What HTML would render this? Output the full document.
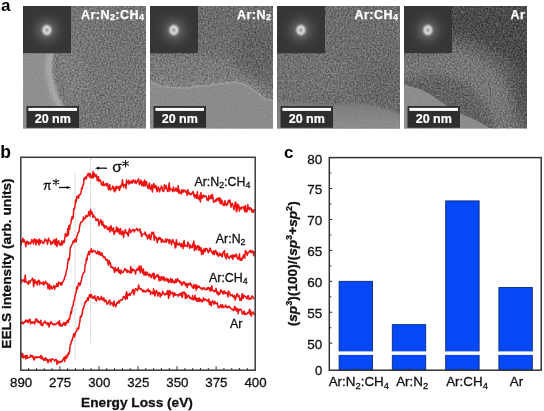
<!DOCTYPE html><html><head><meta charset="utf-8"><style>
html,body{margin:0;padding:0;background:#fff;width:544px;height:411px;overflow:hidden}svg{display:block;will-change:transform}text{font-family:"Liberation Sans",sans-serif}
</style></head><body>
<svg width="544" height="411" viewBox="0 0 544 411">
<defs>
<filter id="tx" x="0" y="0" width="1" height="1" color-interpolation-filters="sRGB"><feTurbulence type="fractalNoise" baseFrequency="0.6" numOctaves="3" seed="3" result="t"/><feColorMatrix in="t" type="matrix" values="1 0 0 0 0 1 0 0 0 0 1 0 0 0 0 0 0 0 0 1" result="g0"/><feGaussianBlur in="g0" stdDeviation="0.45" result="g"/><feComposite in="SourceGraphic" in2="g" operator="arithmetic" k1="0" k2="1" k3="0.42" k4="-0.21"/></filter>
<filter id="sm" x="0" y="0" width="1" height="1" color-interpolation-filters="sRGB"><feTurbulence type="fractalNoise" baseFrequency="0.7" numOctaves="2" seed="9" result="t"/><feColorMatrix in="t" type="matrix" values="1 0 0 0 0 1 0 0 0 0 1 0 0 0 0 0 0 0 0 1" result="g"/><feComposite in="SourceGraphic" in2="g" operator="arithmetic" k1="0" k2="1" k3="0.12" k4="-0.06"/></filter>
<filter id="bl0" x="-0.1" y="-0.1" width="1.2" height="1.2"><feGaussianBlur stdDeviation="0.7"/></filter>
<filter id="bl" x="-1" y="-1" width="3" height="3"><feGaussianBlur stdDeviation="0.8"/></filter>
<filter id="bl1" x="-0.2" y="-0.5" width="1.4" height="2"><feGaussianBlur stdDeviation="1.5"/></filter>
<filter id="bl2" x="-1" y="-0.3" width="3" height="1.6"><feGaussianBlur stdDeviation="2"/></filter>
<filter id="bb4" x="-0.3" y="-0.3" width="1.6" height="1.6"><feGaussianBlur stdDeviation="4"/></filter>
<filter id="bb" x="-1" y="-1" width="3" height="3"><feGaussianBlur stdDeviation="8"/></filter>
<radialGradient id="glow"><stop offset="0" stop-color="#8a8a8a"/><stop offset="0.25" stop-color="#606060"/><stop offset="0.6" stop-color="#464646" stop-opacity="0.7"/><stop offset="1" stop-color="#383838" stop-opacity="0"/></radialGradient>
<linearGradient id="p3s" x1="0" y1="0" x2="0" y2="1"><stop offset="0" stop-color="#7a7a7a"/><stop offset="1" stop-color="#8e8e8e"/></linearGradient>
<g id="base0">
<rect x="23" y="6" width="123" height="122.5" fill="#757575"/>
<ellipse cx="72" cy="75" rx="12" ry="35" fill="#858585" opacity="0.6" filter="url(#bb)" transform="rotate(-15 72 75)"/>
<ellipse cx="135" cy="35" rx="25" ry="30" fill="#6e6e6e" opacity="0.5" filter="url(#bb)" transform="rotate(0 135 35)"/>
<path d="M23,53 L54,53 C51,62 51.5,74 54,83 C56,92 59,100 63,106 C66,112 70,120 74,129.5 L23,129.5 Z" fill="#8f8f8f" filter="url(#bl0)"/>
<path d="M51,53 C48,62 48.5,74 51,83 C53,92 56,100 60,106 C63,112 67,120 71,129" fill="none" stroke="#acacac" stroke-width="6" filter="url(#bl2)"/>
</g>
<g id="base1">
<rect x="150" y="6" width="123" height="122.5" fill="#6f6f6f"/>
<path d="M150,55 L198,55 L235,62 L252,72 L262,85 L274,96 L274,102 L150,90 Z" fill="#7a7a7a" filter="url(#bb4)"/>
<path d="M150,76 L180,82 L230,78 L245,80 L258,90 L270,98 L274,100 L274,104 L150,92 Z" fill="#828282" filter="url(#bb4)"/>
<ellipse cx="258" cy="50" rx="22" ry="28" fill="#5a5a5a" opacity="0.6" filter="url(#bb)" transform="rotate(0 258 50)"/>
<ellipse cx="225" cy="20" rx="35" ry="15" fill="#686868" opacity="0.5" filter="url(#bb)" transform="rotate(0 225 20)"/>
<path d="M150,82 L155,84.1 L160,86.4 L170,87.5 L180,88 L190,87.5 L200,86.4 L210,85.2 L220,84.1 L228,83 L235,81.9 L240,83 L246,85.2 L252,88.6 L258,93.2 L263,97.7 L268,100 L274,100.6 L274,129.5 L150,129.5 Z" fill="#8b8b8b" filter="url(#bl0)"/>
<path d="M150,82 L155,84.1 L160,86.4 L170,87.5 L180,88 L190,87.5 L200,86.4 L210,85.2 L220,84.1 L228,83 L235,81.9 L240,83 L246,85.2 L252,88.6 L258,93.2 L263,97.7 L268,100 L274,100.6" fill="none" stroke="#9c9c9c" stroke-width="1.6" filter="url(#bl0)"/>
</g>
<g id="base2">
<rect x="277" y="6" width="123" height="122.5" fill="#6d6d6d"/>
<ellipse cx="310" cy="75" rx="40" ry="25" fill="#747474" opacity="0.6" filter="url(#bb)" transform="rotate(0 310 75)"/>
<ellipse cx="385" cy="85" rx="22" ry="25" fill="#646464" opacity="0.6" filter="url(#bb)" transform="rotate(0 385 85)"/>
<path d="M277,101 L300,103 L333.6,104.5 L356,103.3 L374.3,105.6 L390,110 L401,114.7 L401,129.5 L277,129.5 Z" fill="url(#p3s)" filter="url(#bl1)"/>
</g>
<g id="base3">
<rect x="404" y="6" width="123" height="122.5" fill="#626262"/>
<path d="M396,66 C420,58 445,58 468,68 C490,80 505,100 512,135" fill="none" stroke="#777" stroke-width="30" filter="url(#bb4)"/>
<path d="M445,0 L535,0 L535,80 L505,58 L475,40 L445,32 Z" fill="#4c4c4c" filter="url(#bb4)"/>
<ellipse cx="524" cy="85" rx="9" ry="45" fill="#484848" opacity="0.8" filter="url(#bb)" transform="rotate(0 524 85)"/>
<ellipse cx="420" cy="45" rx="25" ry="12" fill="#5e5e5e" opacity="0.6" filter="url(#bb)" transform="rotate(0 420 45)"/>
<path d="M404,84.3 L412.4,86.8 L420.8,89.4 L429.2,93.6 L437.6,99.4 L446,105.3 L454.3,110.3 L462.7,114.5 L471.1,117.9 L479.5,122.1 L487.9,127.1 L490,129.5 L404,129.5 Z" fill="#8c8c8c" filter="url(#bl0)"/>
</g>
</defs>
<rect width="544" height="411" fill="#fff"/>
<text x="1" y="10.5" font-weight="bold" font-size="17" fill="#000">a</text>
<clipPath id="cp0"><rect x="23" y="6" width="123" height="122.5"/></clipPath>
<mask id="m0" maskUnits="userSpaceOnUse" x="18" y="1" width="133" height="132.5"><path d="M23,53 L54,53 C51,62 51.5,74 54,83 C56,92 59,100 63,106 C66,112 70,120 74,129.5 L23,129.5 Z" fill="#fff" filter="url(#bl1)"/></mask>
<g clip-path="url(#cp0)">
<use href="#base0" filter="url(#tx)"/>
<use href="#base0" filter="url(#sm)" mask="url(#m0)"/>
<rect x="23" y="6" width="48" height="47.2" fill="#363636"/>
<circle cx="46.9" cy="30.2" r="22" fill="url(#glow)"/>
<ellipse cx="46.9" cy="30.2" rx="3.1" ry="3.6" fill="none" stroke="#f8f8f8" stroke-width="2.5" filter="url(#bl)"/>
<text x="144.4" y="18.8" text-anchor="end" font-weight="bold" font-size="12.5" letter-spacing="0.45" fill="#fff" stroke="#fff" stroke-width="0.25">Ar:N<tspan font-size="9" dy="1.3">2</tspan><tspan dy="-1.3">:CH</tspan><tspan font-size="9" dy="1.3">4</tspan></text>
<rect x="26.5" y="106" width="52.5" height="21.8" fill="#2e2e2e"/>
<rect x="28.4" y="107.9" width="48.6" height="3" fill="#fff"/>
<text x="52.8" y="122.8" text-anchor="middle" font-weight="bold" font-size="12.5" fill="#fff" stroke="#fff" stroke-width="0.2">20 nm</text>
</g>
<clipPath id="cp1"><rect x="150" y="6" width="123" height="122.5"/></clipPath>
<mask id="m1" maskUnits="userSpaceOnUse" x="145" y="1" width="133" height="132.5"><path d="M150,82 L155,84.1 L160,86.4 L170,87.5 L180,88 L190,87.5 L200,86.4 L210,85.2 L220,84.1 L228,83 L235,81.9 L240,83 L246,85.2 L252,88.6 L258,93.2 L263,97.7 L268,100 L274,100.6 L274,129.5 L150,129.5 Z" fill="#fff" filter="url(#bl1)"/></mask>
<g clip-path="url(#cp1)">
<use href="#base1" filter="url(#tx)"/>
<use href="#base1" filter="url(#sm)" mask="url(#m1)"/>
<rect x="150" y="6" width="48" height="47.2" fill="#363636"/>
<circle cx="173.9" cy="30.2" r="22" fill="url(#glow)"/>
<ellipse cx="173.9" cy="30.2" rx="3.1" ry="3.6" fill="none" stroke="#f8f8f8" stroke-width="2.5" filter="url(#bl)"/>
<text x="271.4" y="18.8" text-anchor="end" font-weight="bold" font-size="12.5" letter-spacing="0.45" fill="#fff" stroke="#fff" stroke-width="0.25">Ar:N<tspan font-size="9" dy="1.3">2</tspan></text>
<rect x="153.5" y="106" width="52.5" height="21.8" fill="#2e2e2e"/>
<rect x="155.4" y="107.9" width="48.6" height="3" fill="#fff"/>
<text x="179.8" y="122.8" text-anchor="middle" font-weight="bold" font-size="12.5" fill="#fff" stroke="#fff" stroke-width="0.2">20 nm</text>
</g>
<clipPath id="cp2"><rect x="277" y="6" width="123" height="122.5"/></clipPath>
<mask id="m2" maskUnits="userSpaceOnUse" x="272" y="1" width="133" height="132.5"><path d="M277,101 L300,103 L333.6,104.5 L356,103.3 L374.3,105.6 L390,110 L401,114.7 L401,129.5 L277,129.5 Z" fill="#fff" filter="url(#bl1)"/></mask>
<g clip-path="url(#cp2)">
<use href="#base2" filter="url(#tx)"/>
<use href="#base2" filter="url(#sm)" mask="url(#m2)"/>
<rect x="277" y="6" width="48" height="47.2" fill="#363636"/>
<circle cx="300.9" cy="30.2" r="22" fill="url(#glow)"/>
<ellipse cx="300.9" cy="30.2" rx="3.1" ry="3.6" fill="none" stroke="#f8f8f8" stroke-width="2.5" filter="url(#bl)"/>
<text x="398.4" y="18.8" text-anchor="end" font-weight="bold" font-size="12.5" letter-spacing="0.45" fill="#fff" stroke="#fff" stroke-width="0.25">Ar:CH<tspan font-size="9" dy="1.3">4</tspan></text>
<rect x="280.5" y="106" width="52.5" height="21.8" fill="#2e2e2e"/>
<rect x="282.4" y="107.9" width="48.6" height="3" fill="#fff"/>
<text x="306.8" y="122.8" text-anchor="middle" font-weight="bold" font-size="12.5" fill="#fff" stroke="#fff" stroke-width="0.2">20 nm</text>
</g>
<clipPath id="cp3"><rect x="404" y="6" width="123" height="122.5"/></clipPath>
<mask id="m3" maskUnits="userSpaceOnUse" x="399" y="1" width="133" height="132.5"><path d="M404,84.3 L412.4,86.8 L420.8,89.4 L429.2,93.6 L437.6,99.4 L446,105.3 L454.3,110.3 L462.7,114.5 L471.1,117.9 L479.5,122.1 L487.9,127.1 L490,129.5 L404,129.5 Z" fill="#fff" filter="url(#bl1)"/></mask>
<g clip-path="url(#cp3)">
<use href="#base3" filter="url(#tx)"/>
<use href="#base3" filter="url(#sm)" mask="url(#m3)"/>
<rect x="404" y="6" width="48" height="47.2" fill="#363636"/>
<circle cx="427.9" cy="30.2" r="22" fill="url(#glow)"/>
<ellipse cx="427.9" cy="30.2" rx="3.1" ry="3.6" fill="none" stroke="#f8f8f8" stroke-width="2.5" filter="url(#bl)"/>
<text x="525.4" y="18.8" text-anchor="end" font-weight="bold" font-size="12.5" letter-spacing="0.45" fill="#fff" stroke="#fff" stroke-width="0.25">Ar</text>
<rect x="407.5" y="106" width="52.5" height="21.8" fill="#2e2e2e"/>
<rect x="409.4" y="107.9" width="48.6" height="3" fill="#fff"/>
<text x="433.8" y="122.8" text-anchor="middle" font-weight="bold" font-size="12.5" fill="#fff" stroke="#fff" stroke-width="0.2">20 nm</text>
</g>
<text x="0.3" y="158" font-weight="bold" font-size="17.5" fill="#000">b</text>
<line x1="75.1" y1="174" x2="75.1" y2="360" stroke="#9aa" stroke-width="0.8" stroke-dasharray="1,1.2"/>
<line x1="90.6" y1="159" x2="90.6" y2="344.5" stroke="#9aa" stroke-width="0.8" stroke-dasharray="1,1.2"/>
<path d="M21.0,245.7 L21.6,240.7 L22.2,241.8 L22.8,238.2 L23.4,241.9 L24.0,239.8 L24.6,241.7 L25.2,242.4 L25.8,246.7 L26.4,241.3 L27.0,242.5 L27.6,241.5 L28.2,244.4 L28.8,242.5 L29.4,242.5 L30.0,243.1 L30.6,244.0 L31.2,242.1 L31.8,239.5 L32.4,240.6 L33.0,242.3 L33.6,243.9 L34.2,238.8 L34.8,241.6 L35.4,239.7 L36.0,244.9 L36.6,239.8 L37.2,241.8 L37.8,242.6 L38.4,240.1 L39.0,244.9 L39.6,239.0 L40.2,243.5 L40.8,241.0 L41.4,240.8 L42.0,241.4 L42.6,243.1 L43.2,242.4 L43.8,243.2 L44.4,241.2 L45.0,238.9 L45.6,240.8 L46.2,240.7 L46.8,240.0 L47.4,244.2 L48.0,241.8 L48.6,238.2 L49.2,240.4 L49.8,240.4 L50.4,241.5 L51.0,244.6 L51.6,242.0 L52.2,242.0 L52.8,243.5 L53.4,240.7 L54.0,239.7 L54.6,242.1 L55.2,244.8 L55.8,239.6 L56.4,238.7 L57.0,246.6 L57.6,241.4 L58.2,242.3 L58.8,240.7 L59.4,244.8 L60.0,243.5 L60.6,245.4 L61.2,244.8 L61.8,240.8 L62.4,244.5 L63.0,242.0 L63.6,241.0 L64.2,242.6 L64.8,237.9 L65.4,233.6 L66.0,234.9 L66.6,236.5 L67.2,235.5 L67.8,228.4 L68.4,235.0 L69.0,225.5 L69.6,229.3 L70.2,225.1 L70.8,223.4 L71.4,219.5 L72.0,216.8 L72.6,219.0 L73.2,217.2 L73.8,208.4 L74.4,208.8 L75.0,206.1 L75.6,200.0 L76.2,201.8 L76.8,196.8 L77.4,196.1 L78.0,197.4 L78.6,198.1 L79.2,194.4 L79.8,195.1 L80.4,194.0 L81.0,193.5 L81.6,188.1 L82.2,188.7 L82.8,185.7 L83.4,185.2 L84.0,178.4 L84.6,179.8 L85.2,177.2 L85.8,177.0 L86.4,178.8 L87.0,175.6 L87.6,174.9 L88.2,173.2 L88.8,174.4 L89.4,177.1 L90.0,173.6 L90.6,174.9 L91.2,178.0 L91.8,175.9 L92.4,177.7 L93.0,171.6 L93.6,177.5 L94.2,173.3 L94.8,174.6 L95.4,176.5 L96.0,174.7 L96.6,175.9 L97.2,180.6 L97.8,176.9 L98.4,176.7 L99.0,181.6 L99.6,179.7 L100.2,180.0 L100.8,181.4 L101.4,184.4 L102.0,184.8 L102.6,185.4 L103.2,181.5 L103.8,185.3 L104.4,185.6 L105.0,184.2 L105.6,184.6 L106.2,183.5 L106.8,185.9 L107.4,183.5 L108.0,186.5 L108.6,189.8 L109.2,187.2 L109.8,184.6 L110.4,190.1 L111.0,189.1 L111.6,188.9 L112.2,188.4 L112.8,185.9 L113.4,188.0 L114.0,190.2 L114.6,191.8 L115.2,187.3 L115.8,190.4 L116.4,186.2 L117.0,187.9 L117.6,188.1 L118.2,186.7 L118.8,188.6 L119.4,190.4 L120.0,185.9 L120.6,188.0 L121.2,185.1 L121.8,185.5 L122.4,179.8 L123.0,184.0 L123.6,187.2 L124.2,184.7 L124.8,184.5 L125.4,184.6 L126.0,188.4 L126.6,180.0 L127.2,181.5 L127.8,182.7 L128.4,184.0 L129.0,180.2 L129.6,183.8 L130.2,182.7 L130.8,181.9 L131.4,180.9 L132.0,183.3 L132.6,182.4 L133.2,179.8 L133.8,180.9 L134.4,182.1 L135.0,182.9 L135.6,180.2 L136.2,183.4 L136.8,182.2 L137.4,181.3 L138.0,180.0 L138.6,178.7 L139.2,184.5 L139.8,182.1 L140.4,183.1 L141.0,180.0 L141.6,185.5 L142.2,183.0 L142.8,182.0 L143.4,186.1 L144.0,182.5 L144.6,180.0 L145.2,186.1 L145.8,181.4 L146.4,181.6 L147.0,185.1 L147.6,187.3 L148.2,188.7 L148.8,185.5 L149.4,183.0 L150.0,188.1 L150.6,189.5 L151.2,189.1 L151.8,184.9 L152.4,192.0 L153.0,187.2 L153.6,183.6 L154.2,184.5 L154.8,188.1 L155.4,186.8 L156.0,185.4 L156.6,189.4 L157.2,191.7 L157.8,188.3 L158.4,186.9 L159.0,189.6 L159.6,191.9 L160.2,188.8 L160.8,188.7 L161.4,186.1 L162.0,187.1 L162.6,190.8 L163.2,191.0 L163.8,191.5 L164.4,184.8 L165.0,188.5 L165.6,188.3 L166.2,185.6 L166.8,189.2 L167.4,191.1 L168.0,191.5 L168.6,186.7 L169.2,183.0 L169.8,191.1 L170.4,188.3 L171.0,189.0 L171.6,189.4 L172.2,190.2 L172.8,191.6 L173.4,187.0 L174.0,190.0 L174.6,191.1 L175.2,190.9 L175.8,187.9 L176.4,188.8 L177.0,191.5 L177.6,190.1 L178.2,185.8 L178.8,193.2 L179.4,190.0 L180.0,192.2 L180.6,193.3 L181.2,193.9 L181.8,189.8 L182.4,190.4 L183.0,192.3 L183.6,189.9 L184.2,190.8 L184.8,190.3 L185.4,192.1 L186.0,191.1 L186.6,191.6 L187.2,195.4 L187.8,189.8 L188.4,193.6 L189.0,192.2 L189.6,194.4 L190.2,193.6 L190.8,194.8 L191.4,193.8 L192.0,193.3 L192.6,192.0 L193.2,191.6 L193.8,196.0 L194.4,194.1 L195.0,197.8 L195.6,195.3 L196.2,194.8 L196.8,198.3 L197.4,191.8 L198.0,198.5 L198.6,198.6 L199.2,199.6 L199.8,195.2 L200.4,202.0 L201.0,192.6 L201.6,198.2 L202.2,195.7 L202.8,197.8 L203.4,195.3 L204.0,195.7 L204.6,196.8 L205.2,195.9 L205.8,196.3 L206.4,196.9 L207.0,200.1 L207.6,199.8 L208.2,200.6 L208.8,195.5 L209.4,199.0 L210.0,197.5 L210.6,198.5 L211.2,194.9 L211.8,198.4 L212.4,194.4 L213.0,198.4 L213.6,202.2 L214.2,201.8 L214.8,201.3 L215.4,200.0 L216.0,201.6 L216.6,198.6 L217.2,200.0 L217.8,199.1 L218.4,198.0 L219.0,201.1 L219.6,197.8 L220.2,203.7 L220.8,199.1 L221.4,203.7 L222.0,200.5 L222.6,202.0 L223.2,205.4 L223.8,204.2 L224.4,205.5 L225.0,200.5 L225.6,204.5 L226.2,203.9 L226.8,205.4 L227.4,204.8 L228.0,201.6 L228.6,200.4 L229.2,202.5 L229.8,199.9 L230.4,203.0 L231.0,207.2 L231.6,204.2 L232.2,203.3 L232.8,205.0 L233.4,206.9 L234.0,209.8 L234.6,206.8 L235.2,202.2 L235.8,202.3 L236.4,211.8 L237.0,210.6 L237.6,204.1 L238.2,207.7 L238.8,205.3 L239.4,211.1 L240.0,208.0 L240.6,207.7 L241.2,209.0 L241.8,207.1 L242.4,207.4 L243.0,207.0 L243.6,208.9 L244.2,206.7 L244.8,211.8 L245.4,205.5 L246.0,211.3 L246.6,211.9 L247.2,210.9 L247.8,204.5 L248.4,209.0 L249.0,207.6 L249.6,210.1 L250.2,207.8 L250.8,208.7 L251.4,208.5 L252.0,212.0 L252.6,210.1 L253.2,212.3 L253.8,211.9 L254.4,209.1" fill="none" stroke="#ee1111" stroke-width="1.5" stroke-linejoin="round"/>
<path d="M21.0,281.0 L21.6,282.6 L22.2,279.7 L22.8,280.6 L23.4,280.0 L24.0,281.0 L24.6,282.2 L25.2,275.1 L25.8,281.3 L26.4,282.4 L27.0,282.2 L27.6,282.3 L28.2,284.4 L28.8,280.9 L29.4,282.2 L30.0,282.9 L30.6,280.4 L31.2,280.2 L31.8,280.1 L32.4,278.1 L33.0,279.1 L33.6,286.6 L34.2,282.4 L34.8,279.7 L35.4,283.1 L36.0,282.2 L36.6,281.7 L37.2,285.0 L37.8,281.3 L38.4,280.3 L39.0,280.3 L39.6,284.7 L40.2,282.0 L40.8,282.8 L41.4,283.1 L42.0,283.7 L42.6,283.9 L43.2,281.7 L43.8,285.1 L44.4,282.9 L45.0,282.9 L45.6,281.2 L46.2,283.7 L46.8,283.8 L47.4,283.2 L48.0,288.7 L48.6,286.6 L49.2,284.1 L49.8,289.4 L50.4,286.3 L51.0,285.7 L51.6,288.3 L52.2,288.8 L52.8,287.3 L53.4,286.9 L54.0,285.5 L54.6,289.4 L55.2,286.7 L55.8,286.1 L56.4,286.6 L57.0,283.2 L57.6,286.6 L58.2,286.0 L58.8,282.0 L59.4,283.6 L60.0,283.1 L60.6,284.8 L61.2,282.4 L61.8,285.0 L62.4,282.7 L63.0,281.6 L63.6,280.8 L64.2,279.3 L64.8,276.5 L65.4,276.0 L66.0,273.1 L66.6,269.8 L67.2,268.4 L67.8,262.4 L68.4,258.5 L69.0,260.2 L69.6,257.5 L70.2,248.7 L70.8,246.4 L71.4,246.1 L72.0,244.2 L72.6,243.7 L73.2,240.8 L73.8,242.3 L74.4,242.0 L75.0,239.0 L75.6,240.9 L76.2,241.8 L76.8,236.1 L77.4,235.7 L78.0,232.8 L78.6,232.2 L79.2,229.9 L79.8,225.4 L80.4,223.9 L81.0,222.0 L81.6,222.0 L82.2,221.7 L82.8,221.4 L83.4,217.1 L84.0,219.2 L84.6,218.5 L85.2,218.6 L85.8,215.6 L86.4,217.0 L87.0,215.7 L87.6,216.5 L88.2,214.9 L88.8,211.5 L89.4,214.3 L90.0,216.1 L90.6,209.6 L91.2,213.8 L91.8,211.7 L92.4,213.1 L93.0,217.6 L93.6,215.1 L94.2,216.4 L94.8,217.0 L95.4,217.4 L96.0,220.5 L96.6,219.3 L97.2,220.5 L97.8,218.9 L98.4,219.8 L99.0,225.7 L99.6,222.8 L100.2,222.2 L100.8,219.6 L101.4,222.6 L102.0,225.1 L102.6,221.3 L103.2,225.0 L103.8,226.7 L104.4,225.3 L105.0,228.4 L105.6,225.9 L106.2,226.8 L106.8,226.5 L107.4,229.3 L108.0,228.8 L108.6,229.7 L109.2,226.9 L109.8,232.0 L110.4,230.1 L111.0,225.7 L111.6,228.4 L112.2,231.0 L112.8,228.8 L113.4,227.9 L114.0,234.4 L114.6,232.7 L115.2,231.1 L115.8,231.8 L116.4,227.1 L117.0,227.5 L117.6,231.9 L118.2,228.4 L118.8,229.3 L119.4,234.0 L120.0,230.2 L120.6,228.6 L121.2,234.8 L121.8,234.0 L122.4,232.4 L123.0,230.8 L123.6,237.4 L124.2,232.8 L124.8,232.7 L125.4,229.6 L126.0,232.3 L126.6,233.6 L127.2,232.4 L127.8,234.7 L128.4,236.0 L129.0,230.6 L129.6,228.6 L130.2,230.6 L130.8,232.7 L131.4,230.8 L132.0,230.8 L132.6,230.3 L133.2,229.4 L133.8,230.4 L134.4,231.9 L135.0,229.7 L135.6,229.9 L136.2,229.5 L136.8,228.4 L137.4,229.7 L138.0,230.8 L138.6,230.0 L139.2,230.2 L139.8,228.7 L140.4,232.8 L141.0,231.7 L141.6,236.6 L142.2,235.1 L142.8,234.1 L143.4,233.9 L144.0,233.7 L144.6,234.1 L145.2,231.9 L145.8,235.5 L146.4,234.4 L147.0,236.5 L147.6,238.9 L148.2,237.4 L148.8,235.1 L149.4,234.3 L150.0,238.8 L150.6,239.8 L151.2,236.0 L151.8,232.3 L152.4,233.7 L153.0,234.3 L153.6,232.1 L154.2,240.2 L154.8,235.7 L155.4,238.0 L156.0,237.3 L156.6,237.9 L157.2,242.7 L157.8,238.8 L158.4,240.0 L159.0,237.5 L159.6,237.6 L160.2,239.1 L160.8,238.1 L161.4,242.4 L162.0,241.3 L162.6,239.6 L163.2,241.2 L163.8,242.2 L164.4,241.9 L165.0,241.6 L165.6,238.9 L166.2,242.3 L166.8,240.8 L167.4,239.2 L168.0,240.1 L168.6,240.1 L169.2,243.6 L169.8,239.6 L170.4,241.6 L171.0,241.8 L171.6,244.9 L172.2,240.0 L172.8,239.6 L173.4,242.1 L174.0,242.9 L174.6,242.5 L175.2,247.9 L175.8,247.6 L176.4,239.7 L177.0,244.7 L177.6,243.5 L178.2,245.1 L178.8,244.9 L179.4,243.0 L180.0,243.7 L180.6,246.1 L181.2,246.8 L181.8,243.8 L182.4,244.0 L183.0,248.6 L183.6,242.4 L184.2,240.5 L184.8,246.3 L185.4,245.4 L186.0,245.8 L186.6,245.7 L187.2,246.7 L187.8,242.1 L188.4,243.1 L189.0,245.0 L189.6,248.4 L190.2,245.0 L190.8,247.1 L191.4,246.7 L192.0,247.8 L192.6,243.9 L193.2,246.7 L193.8,241.1 L194.4,250.4 L195.0,244.7 L195.6,248.7 L196.2,249.6 L196.8,246.7 L197.4,245.7 L198.0,246.1 L198.6,250.2 L199.2,246.3 L199.8,249.3 L200.4,250.7 L201.0,247.6 L201.6,254.6 L202.2,250.2 L202.8,250.7 L203.4,254.0 L204.0,248.8 L204.6,249.3 L205.2,251.5 L205.8,248.2 L206.4,249.5 L207.0,248.9 L207.6,250.0 L208.2,252.7 L208.8,251.9 L209.4,250.2 L210.0,248.0 L210.6,249.2 L211.2,251.6 L211.8,251.3 L212.4,253.7 L213.0,254.0 L213.6,251.1 L214.2,254.7 L214.8,251.6 L215.4,250.5 L216.0,251.2 L216.6,254.5 L217.2,252.2 L217.8,254.9 L218.4,256.3 L219.0,255.9 L219.6,252.9 L220.2,255.2 L220.8,254.2 L221.4,254.0 L222.0,257.1 L222.6,255.4 L223.2,251.9 L223.8,252.4 L224.4,250.6 L225.0,256.4 L225.6,255.0 L226.2,258.9 L226.8,254.2 L227.4,253.5 L228.0,257.1 L228.6,257.3 L229.2,258.5 L229.8,257.2 L230.4,255.9 L231.0,256.2 L231.6,257.5 L232.2,254.9 L232.8,259.3 L233.4,256.2 L234.0,254.9 L234.6,256.7 L235.2,256.5 L235.8,254.5 L236.4,254.1 L237.0,257.9 L237.6,257.7 L238.2,259.4 L238.8,257.2 L239.4,253.9 L240.0,260.0 L240.6,260.2 L241.2,258.5 L241.8,260.3 L242.4,257.2 L243.0,257.6 L243.6,254.8 L244.2,258.0 L244.8,258.0 L245.4,250.5 L246.0,251.4 L246.6,252.7 L247.2,255.4 L247.8,252.8 L248.4,252.8 L249.0,251.9 L249.6,250.9 L250.2,252.0 L250.8,250.2 L251.4,252.7 L252.0,251.8 L252.6,250.8 L253.2,252.0 L253.8,255.7 L254.4,251.3" fill="none" stroke="#ee1111" stroke-width="1.5" stroke-linejoin="round"/>
<path d="M21.0,324.2 L21.6,323.6 L22.2,321.7 L22.8,322.9 L23.4,323.7 L24.0,322.8 L24.6,321.5 L25.2,322.0 L25.8,320.0 L26.4,321.6 L27.0,321.6 L27.6,320.3 L28.2,322.7 L28.8,321.4 L29.4,319.5 L30.0,319.2 L30.6,323.8 L31.2,322.9 L31.8,321.7 L32.4,323.2 L33.0,322.5 L33.6,321.8 L34.2,322.4 L34.8,324.0 L35.4,320.4 L36.0,318.9 L36.6,319.2 L37.2,322.0 L37.8,320.3 L38.4,322.4 L39.0,322.3 L39.6,321.7 L40.2,323.8 L40.8,320.2 L41.4,325.4 L42.0,324.1 L42.6,325.8 L43.2,323.1 L43.8,323.0 L44.4,322.0 L45.0,321.1 L45.6,322.6 L46.2,323.5 L46.8,322.9 L47.4,324.8 L48.0,322.7 L48.6,324.7 L49.2,327.0 L49.8,323.0 L50.4,324.0 L51.0,321.8 L51.6,322.4 L52.2,323.1 L52.8,324.4 L53.4,324.8 L54.0,323.8 L54.6,323.9 L55.2,324.7 L55.8,324.5 L56.4,323.9 L57.0,322.9 L57.6,322.9 L58.2,321.8 L58.8,324.5 L59.4,320.8 L60.0,326.1 L60.6,323.7 L61.2,325.4 L61.8,325.9 L62.4,325.8 L63.0,324.0 L63.6,322.8 L64.2,324.8 L64.8,322.6 L65.4,325.4 L66.0,322.6 L66.6,323.8 L67.2,320.4 L67.8,320.5 L68.4,322.3 L69.0,318.6 L69.6,319.2 L70.2,315.9 L70.8,311.4 L71.4,313.6 L72.0,308.2 L72.6,306.1 L73.2,305.7 L73.8,300.5 L74.4,300.3 L75.0,296.8 L75.6,293.2 L76.2,292.3 L76.8,287.1 L77.4,289.1 L78.0,286.3 L78.6,282.8 L79.2,283.2 L79.8,285.5 L80.4,283.9 L81.0,281.3 L81.6,279.4 L82.2,276.5 L82.8,274.5 L83.4,272.9 L84.0,272.6 L84.6,271.4 L85.2,264.4 L85.8,263.7 L86.4,258.2 L87.0,260.2 L87.6,255.0 L88.2,253.8 L88.8,251.5 L89.4,254.8 L90.0,251.1 L90.6,251.8 L91.2,248.7 L91.8,251.4 L92.4,252.5 L93.0,251.1 L93.6,250.4 L94.2,251.1 L94.8,251.5 L95.4,251.2 L96.0,253.1 L96.6,253.3 L97.2,253.8 L97.8,251.1 L98.4,253.8 L99.0,254.5 L99.6,251.7 L100.2,254.3 L100.8,255.4 L101.4,252.9 L102.0,253.1 L102.6,256.3 L103.2,256.0 L103.8,257.7 L104.4,257.4 L105.0,256.9 L105.6,259.4 L106.2,260.4 L106.8,259.4 L107.4,259.5 L108.0,263.8 L108.6,265.3 L109.2,260.6 L109.8,262.2 L110.4,263.0 L111.0,267.4 L111.6,266.7 L112.2,266.7 L112.8,268.2 L113.4,267.8 L114.0,270.0 L114.6,272.5 L115.2,267.5 L115.8,270.5 L116.4,270.9 L117.0,269.4 L117.6,270.7 L118.2,267.7 L118.8,272.4 L119.4,270.2 L120.0,272.8 L120.6,274.0 L121.2,270.0 L121.8,272.6 L122.4,272.6 L123.0,272.5 L123.6,271.4 L124.2,270.5 L124.8,268.6 L125.4,269.1 L126.0,270.7 L126.6,270.1 L127.2,272.6 L127.8,270.2 L128.4,271.5 L129.0,271.9 L129.6,272.9 L130.2,271.8 L130.8,266.6 L131.4,272.9 L132.0,271.7 L132.6,269.1 L133.2,270.1 L133.8,269.6 L134.4,270.8 L135.0,271.6 L135.6,274.0 L136.2,270.0 L136.8,270.1 L137.4,268.2 L138.0,270.3 L138.6,269.0 L139.2,266.1 L139.8,270.3 L140.4,272.7 L141.0,266.0 L141.6,269.0 L142.2,271.4 L142.8,273.2 L143.4,268.9 L144.0,275.2 L144.6,273.8 L145.2,271.9 L145.8,275.2 L146.4,275.0 L147.0,272.0 L147.6,273.8 L148.2,274.3 L148.8,276.0 L149.4,273.9 L150.0,274.1 L150.6,276.9 L151.2,277.5 L151.8,275.1 L152.4,275.3 L153.0,273.3 L153.6,278.5 L154.2,273.5 L154.8,279.0 L155.4,276.4 L156.0,276.7 L156.6,276.8 L157.2,274.5 L157.8,276.6 L158.4,275.2 L159.0,280.8 L159.6,277.1 L160.2,277.8 L160.8,280.4 L161.4,276.8 L162.0,276.6 L162.6,279.2 L163.2,280.1 L163.8,277.0 L164.4,277.7 L165.0,280.9 L165.6,279.2 L166.2,279.5 L166.8,278.3 L167.4,281.4 L168.0,279.0 L168.6,282.4 L169.2,281.3 L169.8,281.4 L170.4,278.6 L171.0,282.4 L171.6,282.5 L172.2,279.0 L172.8,281.1 L173.4,282.3 L174.0,281.1 L174.6,283.1 L175.2,281.7 L175.8,279.2 L176.4,282.3 L177.0,281.7 L177.6,278.6 L178.2,280.8 L178.8,281.1 L179.4,280.7 L180.0,283.1 L180.6,281.4 L181.2,282.7 L181.8,285.3 L182.4,284.5 L183.0,282.5 L183.6,281.8 L184.2,283.5 L184.8,282.3 L185.4,285.4 L186.0,285.7 L186.6,283.6 L187.2,287.5 L187.8,284.0 L188.4,283.7 L189.0,284.8 L189.6,284.5 L190.2,282.7 L190.8,285.1 L191.4,284.5 L192.0,286.8 L192.6,287.1 L193.2,288.4 L193.8,284.6 L194.4,287.3 L195.0,288.0 L195.6,284.8 L196.2,290.1 L196.8,285.3 L197.4,288.2 L198.0,286.0 L198.6,287.1 L199.2,286.4 L199.8,287.5 L200.4,288.4 L201.0,288.0 L201.6,287.9 L202.2,289.7 L202.8,288.3 L203.4,288.5 L204.0,287.6 L204.6,289.0 L205.2,289.7 L205.8,289.7 L206.4,289.0 L207.0,287.7 L207.6,289.4 L208.2,287.8 L208.8,287.5 L209.4,289.1 L210.0,291.0 L210.6,287.8 L211.2,290.6 L211.8,285.8 L212.4,289.9 L213.0,290.4 L213.6,290.9 L214.2,291.9 L214.8,290.6 L215.4,291.3 L216.0,288.3 L216.6,291.7 L217.2,293.8 L217.8,291.7 L218.4,294.9 L219.0,293.3 L219.6,294.2 L220.2,291.9 L220.8,289.8 L221.4,290.9 L222.0,292.3 L222.6,293.5 L223.2,291.2 L223.8,294.1 L224.4,290.9 L225.0,291.6 L225.6,293.3 L226.2,293.0 L226.8,293.7 L227.4,292.7 L228.0,296.8 L228.6,290.9 L229.2,292.7 L229.8,293.0 L230.4,295.9 L231.0,295.6 L231.6,294.9 L232.2,294.6 L232.8,296.6 L233.4,296.0 L234.0,297.7 L234.6,295.5 L235.2,300.1 L235.8,298.0 L236.4,296.9 L237.0,293.5 L237.6,295.2 L238.2,296.4 L238.8,295.3 L239.4,297.7 L240.0,300.5 L240.6,298.3 L241.2,300.3 L241.8,295.3 L242.4,293.6 L243.0,298.7 L243.6,297.1 L244.2,295.3 L244.8,296.3 L245.4,296.6 L246.0,296.6 L246.6,298.7 L247.2,298.6 L247.8,296.0 L248.4,295.7 L249.0,299.3 L249.6,298.1 L250.2,298.4 L250.8,299.2 L251.4,297.7 L252.0,296.0 L252.6,296.2 L253.2,298.1 L253.8,298.2 L254.4,299.0" fill="none" stroke="#ee1111" stroke-width="1.5" stroke-linejoin="round"/>
<path d="M21.0,357.7 L21.6,352.9 L22.2,357.0 L22.8,353.8 L23.4,358.1 L24.0,357.2 L24.6,356.7 L25.2,355.6 L25.8,359.1 L26.4,355.7 L27.0,355.4 L27.6,358.3 L28.2,357.7 L28.8,357.4 L29.4,357.0 L30.0,357.3 L30.6,355.0 L31.2,356.2 L31.8,355.5 L32.4,357.4 L33.0,355.9 L33.6,358.8 L34.2,360.0 L34.8,357.3 L35.4,356.8 L36.0,357.8 L36.6,356.8 L37.2,357.4 L37.8,357.5 L38.4,356.8 L39.0,357.3 L39.6,357.0 L40.2,357.6 L40.8,355.5 L41.4,358.7 L42.0,356.5 L42.6,359.1 L43.2,358.5 L43.8,360.4 L44.4,358.6 L45.0,359.9 L45.6,357.6 L46.2,360.4 L46.8,359.6 L47.4,359.5 L48.0,362.9 L48.6,360.3 L49.2,359.9 L49.8,360.8 L50.4,359.2 L51.0,362.0 L51.6,359.6 L52.2,358.8 L52.8,359.2 L53.4,359.6 L54.0,359.9 L54.6,361.1 L55.2,360.1 L55.8,359.4 L56.4,359.9 L57.0,364.4 L57.6,360.9 L58.2,361.4 L58.8,363.0 L59.4,361.9 L60.0,361.3 L60.6,362.2 L61.2,362.0 L61.8,361.0 L62.4,361.3 L63.0,359.3 L63.6,358.8 L64.2,357.2 L64.8,361.5 L65.4,356.3 L66.0,358.3 L66.6,358.4 L67.2,354.6 L67.8,356.0 L68.4,353.1 L69.0,353.9 L69.6,350.9 L70.2,344.9 L70.8,344.4 L71.4,340.8 L72.0,341.0 L72.6,337.8 L73.2,336.5 L73.8,333.7 L74.4,337.0 L75.0,334.8 L75.6,331.8 L76.2,331.5 L76.8,331.0 L77.4,328.1 L78.0,328.9 L78.6,329.0 L79.2,324.6 L79.8,322.1 L80.4,316.3 L81.0,317.2 L81.6,316.1 L82.2,313.8 L82.8,308.8 L83.4,309.0 L84.0,306.1 L84.6,304.9 L85.2,301.6 L85.8,302.5 L86.4,300.7 L87.0,300.2 L87.6,297.7 L88.2,300.5 L88.8,297.9 L89.4,295.1 L90.0,294.6 L90.6,297.2 L91.2,294.4 L91.8,295.6 L92.4,298.2 L93.0,297.9 L93.6,296.8 L94.2,298.1 L94.8,295.8 L95.4,299.5 L96.0,300.2 L96.6,301.0 L97.2,297.0 L97.8,296.6 L98.4,297.0 L99.0,299.7 L99.6,299.9 L100.2,298.3 L100.8,298.8 L101.4,296.2 L102.0,299.9 L102.6,298.7 L103.2,299.9 L103.8,297.7 L104.4,301.8 L105.0,300.1 L105.6,300.8 L106.2,300.4 L106.8,304.1 L107.4,304.0 L108.0,303.7 L108.6,301.7 L109.2,300.7 L109.8,300.0 L110.4,305.0 L111.0,302.7 L111.6,303.1 L112.2,302.7 L112.8,304.8 L113.4,306.2 L114.0,300.9 L114.6,304.8 L115.2,304.6 L115.8,306.7 L116.4,304.2 L117.0,302.5 L117.6,303.2 L118.2,301.7 L118.8,300.8 L119.4,302.9 L120.0,300.6 L120.6,300.0 L121.2,299.8 L121.8,300.0 L122.4,299.6 L123.0,297.6 L123.6,296.3 L124.2,297.8 L124.8,297.0 L125.4,299.3 L126.0,294.3 L126.6,291.7 L127.2,299.0 L127.8,294.1 L128.4,295.4 L129.0,294.7 L129.6,293.2 L130.2,295.2 L130.8,293.4 L131.4,293.0 L132.0,291.8 L132.6,289.6 L133.2,289.4 L133.8,294.7 L134.4,293.3 L135.0,290.0 L135.6,288.6 L136.2,289.1 L136.8,289.3 L137.4,290.7 L138.0,289.7 L138.6,284.9 L139.2,287.7 L139.8,288.4 L140.4,289.5 L141.0,288.8 L141.6,289.5 L142.2,290.4 L142.8,291.8 L143.4,290.1 L144.0,291.6 L144.6,290.6 L145.2,291.9 L145.8,291.8 L146.4,291.6 L147.0,289.9 L147.6,291.0 L148.2,288.9 L148.8,291.6 L149.4,291.0 L150.0,290.6 L150.6,294.5 L151.2,292.0 L151.8,292.5 L152.4,292.4 L153.0,293.9 L153.6,288.8 L154.2,291.5 L154.8,296.0 L155.4,293.0 L156.0,291.5 L156.6,290.5 L157.2,293.0 L157.8,296.1 L158.4,293.2 L159.0,292.7 L159.6,292.5 L160.2,297.0 L160.8,294.1 L161.4,295.2 L162.0,295.0 L162.6,291.3 L163.2,293.3 L163.8,293.4 L164.4,293.4 L165.0,295.0 L165.6,293.7 L166.2,293.3 L166.8,294.3 L167.4,290.8 L168.0,292.6 L168.6,298.3 L169.2,290.5 L169.8,295.7 L170.4,291.2 L171.0,293.2 L171.6,293.5 L172.2,293.7 L172.8,292.4 L173.4,296.8 L174.0,293.7 L174.6,292.8 L175.2,295.2 L175.8,294.5 L176.4,294.7 L177.0,294.7 L177.6,294.8 L178.2,296.3 L178.8,295.1 L179.4,293.8 L180.0,295.1 L180.6,294.9 L181.2,292.7 L181.8,296.5 L182.4,297.4 L183.0,292.0 L183.6,292.8 L184.2,292.1 L184.8,292.9 L185.4,298.5 L186.0,293.8 L186.6,298.2 L187.2,296.9 L187.8,296.0 L188.4,295.2 L189.0,295.7 L189.6,298.1 L190.2,297.3 L190.8,298.1 L191.4,299.0 L192.0,299.1 L192.6,295.6 L193.2,299.9 L193.8,299.5 L194.4,298.5 L195.0,295.3 L195.6,299.9 L196.2,297.8 L196.8,301.2 L197.4,298.8 L198.0,301.2 L198.6,298.9 L199.2,297.9 L199.8,301.6 L200.4,299.4 L201.0,299.3 L201.6,301.3 L202.2,301.9 L202.8,301.3 L203.4,297.8 L204.0,300.6 L204.6,299.6 L205.2,299.1 L205.8,299.2 L206.4,300.7 L207.0,300.2 L207.6,300.0 L208.2,301.7 L208.8,298.9 L209.4,304.5 L210.0,301.7 L210.6,302.1 L211.2,305.8 L211.8,302.9 L212.4,300.7 L213.0,301.9 L213.6,302.5 L214.2,304.2 L214.8,301.3 L215.4,302.5 L216.0,303.8 L216.6,303.8 L217.2,302.7 L217.8,305.3 L218.4,307.8 L219.0,307.3 L219.6,306.3 L220.2,307.0 L220.8,304.8 L221.4,306.6 L222.0,307.8 L222.6,304.8 L223.2,306.7 L223.8,307.4 L224.4,306.6 L225.0,306.6 L225.6,304.9 L226.2,307.4 L226.8,306.5 L227.4,307.3 L228.0,307.8 L228.6,306.4 L229.2,306.2 L229.8,307.3 L230.4,308.0 L231.0,308.8 L231.6,308.9 L232.2,309.4 L232.8,309.3 L233.4,310.4 L234.0,310.3 L234.6,306.2 L235.2,309.3 L235.8,307.5 L236.4,311.1 L237.0,310.2 L237.6,308.5 L238.2,313.6 L238.8,309.8 L239.4,310.1 L240.0,309.1 L240.6,309.6 L241.2,309.5 L241.8,311.7 L242.4,313.9 L243.0,314.0 L243.6,311.7 L244.2,311.1 L244.8,314.6 L245.4,313.3 L246.0,314.4 L246.6,313.7 L247.2,313.8 L247.8,312.3 L248.4,313.2 L249.0,311.8 L249.6,309.3 L250.2,314.6 L250.8,311.1 L251.4,316.0 L252.0,313.1 L252.6,312.8 L253.2,312.1 L253.8,313.5 L254.4,315.3" fill="none" stroke="#ee1111" stroke-width="1.5" stroke-linejoin="round"/>
<rect x="20.8" y="157.3" width="234.4" height="212.9" fill="none" stroke="#3a3a3a" stroke-width="1.5"/>
<path d="M28.61,370.2 V368.00 M36.43,370.2 V368.00 M44.24,370.2 V368.00 M52.05,370.2 V368.00 M59.87,370.2 V366.20 M67.68,370.2 V368.00 M75.49,370.2 V368.00 M83.31,370.2 V368.00 M91.12,370.2 V368.00 M98.93,370.2 V366.20 M106.75,370.2 V368.00 M114.56,370.2 V368.00 M122.37,370.2 V368.00 M130.19,370.2 V368.00 M138.00,370.2 V366.20 M145.81,370.2 V368.00 M153.63,370.2 V368.00 M161.44,370.2 V368.00 M169.25,370.2 V368.00 M177.07,370.2 V366.20 M184.88,370.2 V368.00 M192.69,370.2 V368.00 M200.51,370.2 V368.00 M208.32,370.2 V368.00 M216.13,370.2 V366.20 M223.95,370.2 V368.00 M231.76,370.2 V368.00 M239.57,370.2 V368.00 M247.39,370.2 V368.00" stroke="#333" stroke-width="1"/>
<text x="21.10" y="386.6" text-anchor="middle" font-size="13.3" fill="#111" stroke="#111" stroke-width="0.3">890</text>
<text x="60.17" y="386.6" text-anchor="middle" font-size="13.3" fill="#111" stroke="#111" stroke-width="0.3">275</text>
<text x="99.23" y="386.6" text-anchor="middle" font-size="13.3" fill="#111" stroke="#111" stroke-width="0.3">300</text>
<text x="138.30" y="386.6" text-anchor="middle" font-size="13.3" fill="#111" stroke="#111" stroke-width="0.3">325</text>
<text x="177.37" y="386.6" text-anchor="middle" font-size="13.3" fill="#111" stroke="#111" stroke-width="0.3">350</text>
<text x="216.43" y="386.6" text-anchor="middle" font-size="13.3" fill="#111" stroke="#111" stroke-width="0.3">375</text>
<text x="255.50" y="386.6" text-anchor="middle" font-size="13.3" fill="#111" stroke="#111" stroke-width="0.3">400</text>
<text x="137" y="406.5" text-anchor="middle" font-weight="bold" font-size="13.7" fill="#111" stroke="#111" stroke-width="0.3">Energy Loss (eV)</text>
<text transform="translate(11,263.5) rotate(-90)" text-anchor="middle" font-weight="bold" font-size="13.7" fill="#111" stroke="#111" stroke-width="0.3">EELS intensity (arb. units)</text>
<path d="M43.2,184.5 Q43.8,182.8 45.3,182.8 L50.9,182.8 L50.9,184.1 L45.3,184.1 Q44.2,184.1 43.7,184.9 Z" fill="#111"/>
<path d="M45.5,184 L46.8,184 Q46.5,187.6 45.4,189.3 Q44.7,190.3 44,189.8 Q43.6,189.2 44.2,188.6 Q45.2,187.2 45.5,184 Z" fill="#111"/>
<path d="M48.3,184 L49.6,184 L49.6,188.2 Q49.6,189.1 50.3,189.1 Q50.7,189.1 50.9,188.7 L51.2,189 Q50.6,190.1 49.5,190.1 Q48.3,190.1 48.3,188.5 Z" fill="#111"/>
<path d="M56.00,178.90 L56.00,185.30 M53.23,180.50 L58.77,183.70 M58.77,180.50 L53.23,183.70" stroke="#111" stroke-width="1.05" stroke-linecap="round"/>
<path d="M59,187.5 L67.5,187.5" stroke="#111" stroke-width="1.3"/><path d="M71,187.5 L66.8,185.9 L66.8,189.1 Z" fill="#111"/>
<path d="M98.5,168.2 L107,168.2" stroke="#111" stroke-width="1.3"/><path d="M95,168.2 L99.2,166.6 L99.2,169.8 Z" fill="#111"/>
<text x="112.3" y="172" font-family="Liberation Serif" font-size="15.5" fill="#111" stroke="#111" stroke-width="0.3">&#963;</text>
<path d="M125.60,160.20 L125.60,167.00 M122.66,161.90 L128.54,165.30 M128.54,161.90 L122.66,165.30" stroke="#111" stroke-width="1.05" stroke-linecap="round"/>
<text x="194.4" y="186" font-size="12.4" fill="#111" stroke="#111" stroke-width="0.3">Ar:N<tspan font-size="8.8" dy="2.2">2</tspan><tspan dy="-2.2">:CH</tspan><tspan font-size="8.8" dy="2.2">4</tspan></text>
<text x="215.8" y="242.7" font-size="12.4" fill="#111" stroke="#111" stroke-width="0.3">Ar:N<tspan font-size="8.8" dy="2.2">2</tspan></text>
<text x="209" y="281.9" font-size="12.4" fill="#111" stroke="#111" stroke-width="0.3">Ar:CH<tspan font-size="8.8" dy="2.2">4</tspan></text>
<text x="230" y="328.4" font-size="12.4" fill="#111" stroke="#111" stroke-width="0.3">Ar</text>
<text x="284" y="158" font-weight="bold" font-size="17" fill="#000">c</text>
<rect x="339.10" y="281.33" width="33.40" height="88.87" fill="#0648f6" stroke="#0a2a80" stroke-width="0.9"/>
<rect x="392.30" y="324.64" width="33.40" height="45.56" fill="#0648f6" stroke="#0a2a80" stroke-width="0.9"/>
<rect x="445.70" y="200.91" width="33.40" height="169.29" fill="#0648f6" stroke="#0a2a80" stroke-width="0.9"/>
<rect x="498.90" y="287.52" width="33.40" height="82.68" fill="#0648f6" stroke="#0a2a80" stroke-width="0.9"/>
<rect x="330.5" y="351.4" width="209.5" height="3.5" fill="#fff"/>
<rect x="329.3" y="157.6" width="211.9" height="212.6" fill="none" stroke="#333" stroke-width="1.5"/>
<path d="M329.3,343.20 H332.30 M329.3,327.73 H331.30 M329.3,312.27 H332.30 M329.3,296.80 H331.30 M329.3,281.33 H332.30 M329.3,265.87 H331.30 M329.3,250.40 H332.30 M329.3,234.93 H331.30 M329.3,219.47 H332.30 M329.3,204.00 H331.30 M329.3,188.53 H332.30 M329.3,173.07 H331.30 M329.3,157.60 H332.30 M355.80,370.3 V367.8 M409.00,370.3 V367.8 M462.40,370.3 V367.8 M515.60,370.3 V367.8" stroke="#333" stroke-width="1"/>
<text x="322.3" y="163.50" text-anchor="end" font-size="13.5" fill="#111" stroke="#111" stroke-width="0.3">80</text>
<text x="322.3" y="194.43" text-anchor="end" font-size="13.5" fill="#111" stroke="#111" stroke-width="0.3">75</text>
<text x="322.3" y="225.37" text-anchor="end" font-size="13.5" fill="#111" stroke="#111" stroke-width="0.3">70</text>
<text x="322.3" y="256.30" text-anchor="end" font-size="13.5" fill="#111" stroke="#111" stroke-width="0.3">65</text>
<text x="322.3" y="287.23" text-anchor="end" font-size="13.5" fill="#111" stroke="#111" stroke-width="0.3">60</text>
<text x="322.3" y="318.17" text-anchor="end" font-size="13.5" fill="#111" stroke="#111" stroke-width="0.3">55</text>
<text x="322.3" y="349.10" text-anchor="end" font-size="13.5" fill="#111" stroke="#111" stroke-width="0.3">50</text>
<text x="322.3" y="374.8" text-anchor="end" font-size="13" fill="#111" stroke="#111" stroke-width="0.3">0</text>
<text x="328.70" y="386.2" font-size="13.4" fill="#111" stroke="#111" stroke-width="0.3">Ar:N<tspan font-size="9.4" dy="2.4">2</tspan><tspan dy="-2.4">:CH</tspan><tspan font-size="9.4" dy="2.4">4</tspan></text>
<text x="396.20" y="386.2" font-size="13.4" fill="#111" stroke="#111" stroke-width="0.3">Ar:N<tspan font-size="9.4" dy="2.4">2</tspan></text>
<text x="446.20" y="386.2" font-size="13.4" fill="#111" stroke="#111" stroke-width="0.3">Ar:CH<tspan font-size="9.4" dy="2.4">4</tspan></text>
<text x="509.80" y="386.2" font-size="13.4" fill="#111" stroke="#111" stroke-width="0.3">Ar</text>
<text transform="translate(297.3,263.8) rotate(-90)" text-anchor="middle" font-weight="bold" font-size="13.7" fill="#111" stroke="#111" stroke-width="0.3">(<tspan font-style="italic">sp</tspan><tspan font-size="9" dy="-5">3</tspan><tspan dy="5">)(100)/(</tspan><tspan font-style="italic">sp</tspan><tspan font-size="9" dy="-5">3</tspan><tspan dy="5">+</tspan><tspan font-style="italic">sp</tspan><tspan font-size="9" dy="-5">2</tspan><tspan dy="5">)</tspan></text>
</svg></body></html>
